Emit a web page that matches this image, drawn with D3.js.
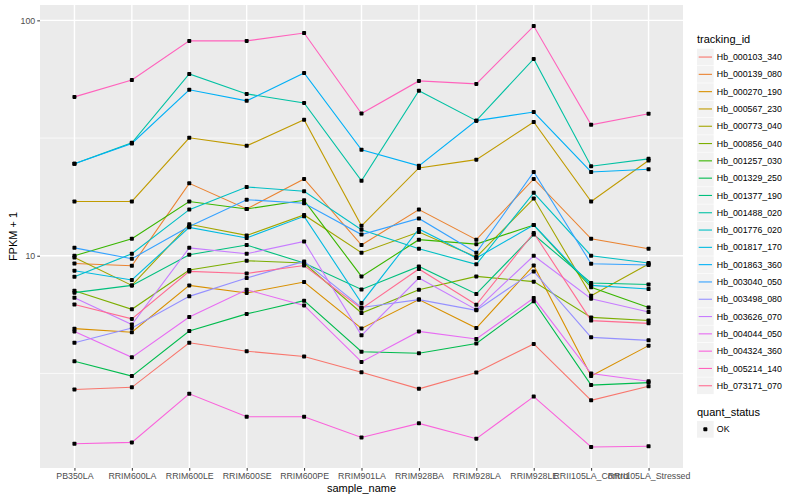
<!DOCTYPE html>
<html>
<head>
<meta charset="utf-8">
<script src="https://cdn.jsdelivr.net/npm/d3@7"></script>
<style>
  body { margin: 0; background: #fff; }
  text { font-family: "Liberation Sans", Arial, Helvetica, sans-serif; }
</style>
</head>
<body>
<div id="chart"></div>
<script>
// samples on the x axis
var samples = ["PB350LA", "RRIM600LA", "RRIM600LE", "RRIM600SE", "RRIM600PE", "RRIM901LA",
  "RRIM928BA", "RRIM928LA", "RRIM928LE", "RRII105LA_Control", "RRII105LA_Stressed"];

var trackingIds = ["Hb_000103_340", "Hb_000139_080", "Hb_000270_190", "Hb_000567_230", "Hb_000773_040",
  "Hb_000856_040", "Hb_001257_030", "Hb_001329_250", "Hb_001377_190", "Hb_001488_020",
  "Hb_001776_020", "Hb_001817_170", "Hb_001863_360", "Hb_003040_050", "Hb_003498_080",
  "Hb_003626_070", "Hb_004044_050", "Hb_004324_360", "Hb_005214_140", "Hb_073171_070"];

// FPKM + 1, one array per gene, in sample order
var hb_000103_340 = [2.70, 2.76, 4.27, 3.93, 3.73, 3.20, 2.72, 3.19, 4.22, 2.43, 2.79];
var hb_000139_080 = [9.27, 9.07, 20.3, 15.8, 21.2, 11.1, 15.7, 11.7, 21.2, 11.8, 10.7];
var hb_000270_190 = [4.90, 4.73, 7.48, 6.95, 7.73, 4.91, 6.51, 4.93, 9.09, 3.08, 4.15];
var hb_000567_230 = [17.0, 17.0, 31.7, 29.3, 37.8, 13.4, 23.6, 25.6, 37.0, 17.0, 25.4];
var hb_000773_040 = [9.83, 7.48, 13.6, 12.2, 14.9, 10.3, 12.6, 9.87, 17.5, 6.76, 9.22];
var hb_000856_040 = [7.10, 5.92, 8.70, 9.52, 9.31, 5.71, 7.17, 8.17, 7.76, 5.47, 5.31];
var hb_001257_030 = [10.0, 11.8, 17.0, 15.8, 17.2, 8.17, 11.7, 11.2, 13.5, 7.34, 6.03];
var hb_001329_250 = [3.56, 3.08, 4.79, 5.66, 6.44, 3.91, 3.85, 4.24, 6.41, 2.82, 2.89];
var hb_001377_190 = [6.97, 7.48, 10.1, 11.1, 9.31, 7.19, 9.01, 6.88, 12.3, 7.66, 7.55];
var hb_001488_020 = [24.6, 30.2, 59.2, 48.7, 44.6, 20.8, 50.2, 37.5, 68.6, 24.0, 25.8];
var hb_001776_020 = [8.14, 10.2, 15.7, 19.6, 18.8, 12.9, 10.7, 9.19, 18.5, 10.0, 9.31];
var hb_001817_170 = [8.64, 7.89, 13.2, 11.9, 14.7, 6.30, 13.0, 9.78, 13.5, 7.48, 7.22];
var hb_001863_360 = [24.6, 30.0, 50.7, 45.5, 59.8, 28.2, 24.1, 37.5, 40.8, 22.7, 23.3];
var hb_003040_050 = [10.8, 9.71, 13.3, 17.3, 16.7, 12.3, 14.4, 10.3, 22.7, 9.25, 9.13];
var hb_003498_080 = [4.27, 4.93, 6.72, 8.04, 9.46, 6.03, 6.51, 5.86, 8.58, 4.50, 4.37];
var hb_003626_070 = [6.63, 5.10, 10.8, 10.2, 11.5, 4.59, 8.04, 5.90, 10.0, 6.57, 5.77];
var hb_004044_050 = [4.77, 3.70, 5.49, 7.17, 6.15, 3.54, 4.77, 4.43, 6.61, 3.16, 2.93];
var hb_004324_360 = [1.59, 1.61, 2.59, 2.07, 2.07, 1.69, 1.94, 1.67, 2.52, 1.54, 1.55];
var hb_005214_140 = [47.3, 55.8, 81.8, 81.8, 88.4, 40.2, 55.3, 53.7, 94.6, 36.0, 40.1];
var hb_073171_070 = [6.21, 5.39, 8.58, 8.41, 9.09, 5.96, 8.78, 6.19, 12.5, 5.30, 5.16];

var geneValues = [hb_000103_340, hb_000139_080, hb_000270_190, hb_000567_230, hb_000773_040,
  hb_000856_040, hb_001257_030, hb_001329_250, hb_001377_190, hb_001488_020,
  hb_001776_020, hb_001817_170, hb_001863_360, hb_003040_050, hb_003498_080,
  hb_003626_070, hb_004044_050, hb_004324_360, hb_005214_140, hb_073171_070];

var quantStatus = ["OK"];

// y axis breaks
var yMajor = [10, 100];
var yMinor = [Math.sqrt(10), Math.sqrt(1000)];

// ggplot default hue palette for 20 levels
var colors = ["#F8766D", "#EA8331", "#D89000", "#C09B00", "#A3A500", "#7CAE00", "#39B600",
  "#00BB4E", "#00BF7D", "#00C1A3", "#00BFC4", "#00BAE0", "#00B0F6", "#35A2FF", "#9590FF",
  "#C77CFF", "#E76BF3", "#FA62DB", "#FF62BC", "#FF6C91"];

var width = 800, height = 500;
var panel = {left: 40, right: 683, top: 5, bottom: 468};

var series = trackingIds.map(function(id, i) {
  return {id: id, values: geneValues[i].map(function(v, j) { return {sample: samples[j], v: v}; })};
});

var svg = d3.select("#chart").append("svg")
  .attr("width", width)
  .attr("height", height);

var x = d3.scalePoint()
  .domain(samples)
  .range([panel.left, panel.right])
  .padding(0.6);

var all = d3.merge(geneValues);
var lmin = Math.log10(d3.min(all)), lmax = Math.log10(d3.max(all));
var pad = (lmax - lmin) * 0.05;
var y = d3.scaleLog()
  .domain([Math.pow(10, lmin - pad), Math.pow(10, lmax + pad)])
  .range([panel.bottom, panel.top]);

var z = d3.scaleOrdinal().domain(trackingIds).range(colors);

// panel background and grid
svg.append("rect")
  .attr("x", panel.left).attr("y", panel.top)
  .attr("width", panel.right - panel.left)
  .attr("height", panel.bottom - panel.top)
  .attr("fill", "#EBEBEB");

var grid = svg.append("g");
grid.selectAll(".minor").data(yMinor).enter().append("line")
  .attr("x1", panel.left).attr("x2", panel.right)
  .attr("y1", y).attr("y2", y)
  .attr("stroke", "#fff").attr("stroke-width", 0.7);
grid.selectAll(".majy").data(yMajor).enter().append("line")
  .attr("x1", panel.left).attr("x2", panel.right)
  .attr("y1", y).attr("y2", y)
  .attr("stroke", "#fff").attr("stroke-width", 1.4);
grid.selectAll(".majx").data(samples).enter().append("line")
  .attr("x1", x).attr("x2", x)
  .attr("y1", panel.top).attr("y2", panel.bottom)
  .attr("stroke", "#fff").attr("stroke-width", 1.4);

// lines
var line = d3.line()
  .x(function(d) { return x(d.sample); })
  .y(function(d) { return y(d.v); });

svg.append("g").selectAll("path")
  .data(series)
  .enter().append("path")
    .attr("d", function(d) { return line(d.values); })
    .attr("fill", "none")
    .attr("stroke", function(d) { return z(d.id); })
    .attr("stroke-width", 1.1);

// points
svg.append("g").selectAll("g")
  .data(series)
  .enter().append("g")
  .selectAll("rect")
  .data(function(d) { return d.values; })
  .enter().append("rect")
    .attr("x", function(d) { return x(d.sample) - 2; })
    .attr("y", function(d) { return y(d.v) - 2; })
    .attr("width", 4)
    .attr("height", 4)
    .attr("rx", 0.8)
    .attr("fill", "#000");

// axes
var xAxis = svg.append("g")
  .attr("transform", "translate(0," + panel.bottom + ")")
  .call(d3.axisBottom(x).tickSize(2.75).tickPadding(2));

var yAxis = svg.append("g")
  .attr("transform", "translate(" + panel.left + ",0)")
  .call(d3.axisLeft(y).tickValues(yMajor).tickFormat(d3.format("d")).tickSize(2.75).tickPadding(2));

[xAxis, yAxis].forEach(function(a) {
  a.select(".domain").remove();
  a.selectAll(".tick line").attr("stroke", "#333333").attr("stroke-width", 1);
  a.selectAll(".tick text")
    .attr("fill", "#4D4D4D")
    .attr("font-size", "8.8px")
    .attr("font-family", "Liberation Sans, Arial, sans-serif");
});

svg.append("text")
  .attr("x", (panel.left + panel.right) / 2)
  .attr("y", 492)
  .attr("text-anchor", "middle")
  .attr("font-size", "11px")
  .attr("fill", "#000")
  .text("sample_name");

svg.append("text")
  .attr("transform", "translate(17," + (panel.top + panel.bottom) / 2 + ") rotate(-90)")
  .attr("text-anchor", "middle")
  .attr("font-size", "11px")
  .attr("fill", "#000")
  .text("FPKM + 1");

// legend: tracking_id
var legX = 697, keySize = 17.3, legTop = 48.7;

svg.append("text")
  .attr("x", legX).attr("y", 43)
  .attr("font-size", "11px")
  .text("tracking_id");

var legend = svg.append("g").selectAll("g")
  .data(trackingIds)
  .enter().append("g")
    .attr("transform", function(d, i) { return "translate(" + legX + "," + (legTop + i * keySize) + ")"; });

legend.append("rect")
  .attr("width", keySize - 0.6)
  .attr("height", keySize - 0.6)
  .attr("fill", "#F2F2F2");

legend.append("line")
  .attr("x1", 1.7).attr("x2", keySize - 2.3)
  .attr("y1", keySize / 2 - 0.3).attr("y2", keySize / 2 - 0.3)
  .attr("stroke", z)
  .attr("stroke-width", 1.1);

legend.append("text")
  .attr("x", keySize + 2.5)
  .attr("y", keySize / 2 - 0.3)
  .attr("dy", "0.35em")
  .attr("font-size", "8.8px")
  .text(function(d) { return d; });

// legend: quant_status
var qTop = 421;
svg.append("text")
  .attr("x", legX).attr("y", 416)
  .attr("font-size", "11px")
  .text("quant_status");

var qLegend = svg.append("g").selectAll("g")
  .data(quantStatus)
  .enter().append("g")
    .attr("transform", function(d, i) { return "translate(" + legX + "," + (qTop + i * keySize) + ")"; });

qLegend.append("rect")
  .attr("width", keySize - 0.6)
  .attr("height", keySize - 0.6)
  .attr("fill", "#F2F2F2");

qLegend.append("rect")
  .attr("x", keySize / 2 - 2.3).attr("y", keySize / 2 - 2.3)
  .attr("width", 4).attr("height", 4)
  .attr("rx", 0.8)
  .attr("fill", "#000");

qLegend.append("text")
  .attr("x", keySize + 2.5)
  .attr("y", keySize / 2 - 0.3)
  .attr("dy", "0.35em")
  .attr("font-size", "8.8px")
  .text(function(d) { return d; });
</script>
</body>
</html>
